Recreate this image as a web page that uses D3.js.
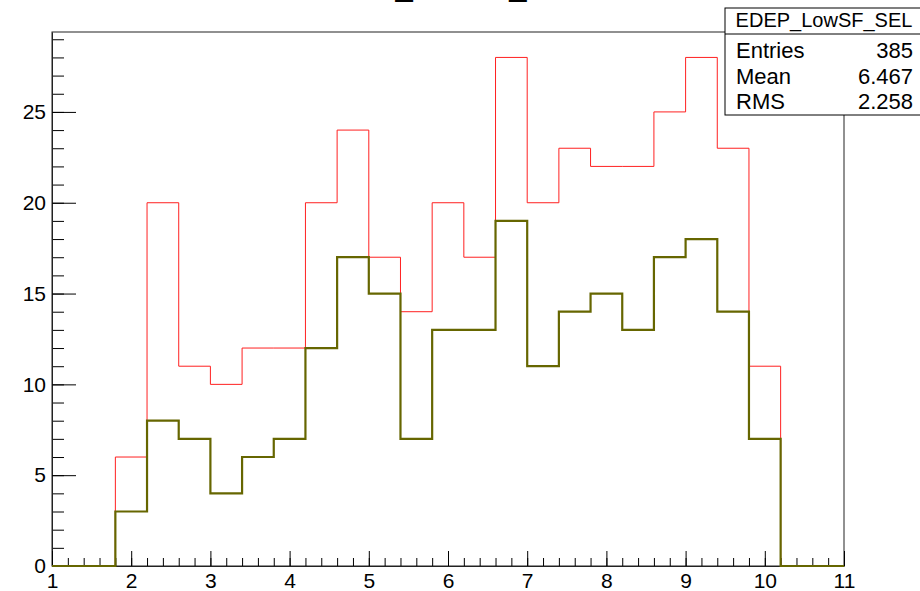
<!DOCTYPE html>
<html>
<head>
<meta charset="utf-8">
<script src="https://cdn.jsdelivr.net/npm/d3@7"></script>
<style>
  body { margin: 0; background: #fff; }
  svg { display: block; font-family: "Liberation Sans", Arial, sans-serif; }
</style>
</head>
<body>
<svg width="920" height="591"></svg>
<script>
// histogram bins: low edges, width 0.4
const binLow = [1.0, 1.4, 1.8, 2.2, 2.6, 3.0, 3.4, 3.8, 4.2, 4.6, 5.0, 5.4, 5.8,
                6.2, 6.6, 7.0, 7.4, 7.8, 8.2, 8.6, 9.0, 9.4, 9.8, 10.2, 10.6];
const binWidth = 0.4;
// red (all) and olive (selected) counts
const redCounts = [0, 0, 6, 20, 11, 10, 12, 12, 20, 24, 17, 14, 20,
                   17, 28, 20, 23, 22, 22, 25, 28, 23, 11, 0, 0];
const oliveCounts = [0, 0, 3, 8, 7, 4, 6, 7, 12, 17, 15, 7, 13,
                     13, 19, 11, 14, 15, 13, 17, 18, 14, 7, 0, 0];
const xTicks = [1, 2, 3, 4, 5, 6, 7, 8, 9, 10, 11];
const yTicks = [0, 5, 10, 15, 20, 25];
const statNames = ["Entries", "Mean", "RMS"];
const statValues = ["385", "6.467", "2.258"];
const histTitle = "EDEP_LowSF_SEL";

function main() {
    const svg = d3.select("svg");

    // frame
    const left = 52, right = 844, top = 32, bottom = 566;

    const xScale = d3.scaleLinear().domain([1, 11]).range([left, right]);
    const yScale = d3.scaleLinear().domain([0, 29.4]).range([bottom, top]);

    // frame box
    svg.append("rect")
        .attr("x", left).attr("y", top)
        .attr("width", right - left).attr("height", bottom - top)
        .attr("fill", "none").attr("stroke", "#222").attr("stroke-width", 1);

    // Y axis: major and minor ticks pointing inwards
    svg.append("g")
        .attr("transform", `translate(${left},0)`)
        .call(d3.axisLeft(yScale).tickValues(d3.range(0, 30, 1)).tickSize(-12).tickFormat(""))
        .call(g => g.select(".domain").remove());
    const yAxis = svg.append("g")
        .attr("transform", `translate(${left},0)`)
        .call(d3.axisLeft(yScale).tickValues(yTicks).tickSize(-24).tickSizeOuter(0).tickPadding(6));
    yAxis.select(".domain").attr("stroke", "#222");
    yAxis.selectAll("text").attr("font-size", 21).attr("fill", "#000")
        .attr("font-family", "Liberation Sans, Arial, sans-serif");

    // X axis
    svg.append("g")
        .attr("transform", `translate(0,${bottom})`)
        .call(d3.axisBottom(xScale).tickValues(d3.range(1, 11.01, 0.2)).tickSize(-8).tickFormat(""))
        .call(g => g.select(".domain").remove());
    const xAxis = svg.append("g")
        .attr("transform", `translate(0,${bottom})`)
        .call(d3.axisBottom(xScale).tickValues(xTicks).tickSize(-15).tickSizeOuter(0).tickPadding(7));
    xAxis.select(".domain").attr("stroke", "#222");
    xAxis.selectAll("text").attr("font-size", 21).attr("fill", "#000")
        .attr("font-family", "Liberation Sans, Arial, sans-serif");

    // step outline of a histogram
    function stepPoints(counts) {
        let pts = [[xScale(binLow[0]), yScale(0)]];
        counts.forEach(function(c, i) {
            pts.push([xScale(binLow[i]), yScale(c)]);
            pts.push([xScale(binLow[i] + binWidth), yScale(c)]);
        });
        pts.push([xScale(binLow[binLow.length - 1] + binWidth), yScale(0)]);
        return pts;
    }
    const line = d3.line();

    svg.append("path")
        .attr("d", line(stepPoints(redCounts)))
        .attr("fill", "none")
        .attr("stroke", "#ff2020")
        .attr("stroke-width", 1);

    svg.append("path")
        .attr("d", line(stepPoints(oliveCounts)))
        .attr("fill", "none")
        .attr("stroke", "#666600")
        .attr("stroke-width", 2.2);

    // title (mostly above the window)
    svg.append("text")
        .text(histTitle)
        .attr("x", (left + right) / 2)
        .attr("y", -4)
        .attr("font-size", 31)
        .style("text-anchor", "middle");

    // stats box
    const bx = 725, by = 8, bw = 200, bh = 107;
    svg.append("rect")
        .attr("x", bx).attr("y", by).attr("width", bw).attr("height", bh)
        .attr("fill", "#fff").attr("stroke", "#000").attr("stroke-width", 1);
    svg.append("line")
        .attr("x1", bx).attr("x2", bx + bw)
        .attr("y1", 34).attr("y2", 34)
        .attr("stroke", "#000");
    svg.append("text")
        .text(histTitle)
        .attr("x", 824).attr("y", 27)
        .attr("font-size", 20)
        .style("text-anchor", "middle");

    const rowY = [58, 83.5, 109];
    statNames.forEach(function(name, i) {
        svg.append("text")
            .text(name)
            .attr("x", 736).attr("y", rowY[i])
            .attr("font-size", 22);
        svg.append("text")
            .text(statValues[i])
            .attr("x", 913).attr("y", rowY[i])
            .attr("font-size", 22)
            .style("text-anchor", "end");
    });
}

main();
</script>
</body>
</html>
